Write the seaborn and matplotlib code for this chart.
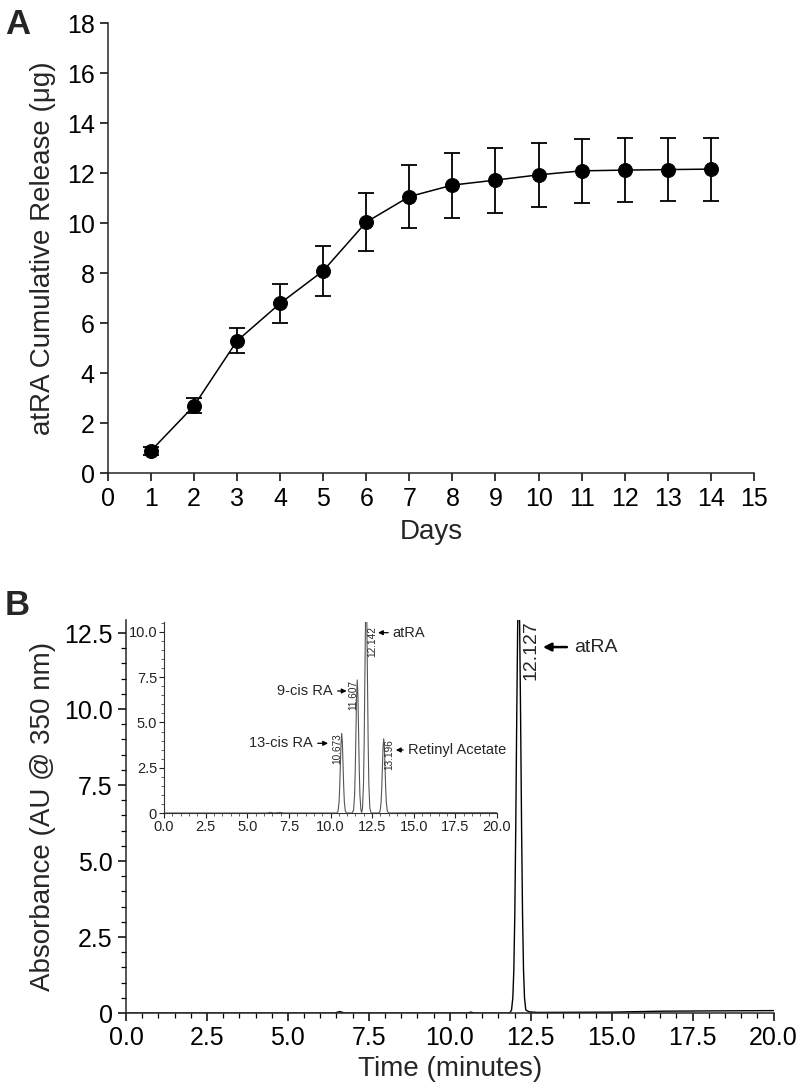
import matplotlib
matplotlib.use("Agg")
import matplotlib.pyplot as plt
from matplotlib.ticker import MultipleLocator, FuncFormatter
import seaborn as sns
import pandas as pd

# ---------------- Data ----------------
days = [1, 2, 3, 4, 5, 6, 7, 8, 9, 10, 11, 12, 13, 14]
release = [0.9, 2.7, 5.3, 6.8, 8.1, 10.05, 11.07, 11.53, 11.73, 11.94, 12.1, 12.13, 12.15, 12.17]
release_sd = [0.15, 0.3, 0.5, 0.78, 1.0, 1.15, 1.25, 1.3, 1.3, 1.29, 1.27, 1.27, 1.27, 1.26]

main_time = [0.0, 5.0, 6.45, 6.6, 6.75, 10.55, 10.65, 10.75, 11.85,
             11.907, 11.947, 11.977, 12.007, 12.037, 12.067, 12.097, 12.127,
             12.157, 12.187, 12.217, 12.247, 12.277, 12.307, 12.347,
             12.45, 12.7, 15.0, 16.5, 18.0, 20.0]
main_au = [0.0, 0.0, 0.0, 0.05, 0.0, 0.0, 0.03, 0.0, 0.0,
           0.10, 0.51, 1.4, 3.2, 6.1, 9.7, 12.8, 14.0,
           12.8, 9.7, 6.1, 3.2, 1.4, 0.51, 0.10,
           0.04, 0.02, 0.03, 0.06, 0.07, 0.08]

inset_time = [0.0, 6.2, 6.4, 6.6, 7.0, 7.2, 10.2,
              10.373, 10.453, 10.513, 10.553, 10.593, 10.633, 10.673, 10.713, 10.753, 10.793, 10.833, 10.893, 10.973,
              11.307, 11.387, 11.447, 11.487, 11.527, 11.567, 11.607, 11.647, 11.687, 11.727, 11.767, 11.827, 11.875,
              11.922, 11.982, 12.022, 12.062, 12.102, 12.142, 12.182, 12.222, 12.262, 12.302, 12.362, 12.442,
              12.896, 12.976, 13.036, 13.076, 13.116, 13.156, 13.196, 13.236, 13.276, 13.316, 13.356, 13.416, 13.496,
              16.0, 20.0]
inset_au = [0.0, 0.0, 0.04, 0.0, 0.03, 0.0, 0.0,
            0.0, 0.10, 0.59, 1.43, 2.67, 3.88, 4.4, 3.88, 2.67, 1.43, 0.59, 0.10, 0.0,
            0.0, 0.17, 0.99, 2.39, 4.46, 6.48, 7.35, 6.48, 4.46, 2.39, 0.99, 0.17, 0.03,
            0.27, 1.62, 3.9, 7.28, 10.6, 12.0, 10.6, 7.28, 3.9, 1.62, 0.27, 0.0,
            0.0, 0.09, 0.55, 1.33, 2.49, 3.62, 4.1, 3.62, 2.49, 1.33, 0.55, 0.09, 0.0,
            0.02, 0.02]

peak_rt = [10.673, 11.607, 12.142, 13.196]
peak_height = [4.4, 7.35, 10.3, 4.09]
peak_names = ["13-cis RA", "9-cis RA", "atRA", "Retinyl Acetate"]
main_peak_rt = 12.127
main_peak_name = "atRA"

# ---------------- Style ----------------
sns.set_theme(style="ticks")
plt.rcParams["font.family"] = ["Liberation Sans", "DejaVu Sans"]
plt.rcParams["axes.linewidth"] = 1.1
plt.rcParams["xtick.major.width"] = 1.1
plt.rcParams["ytick.major.width"] = 1.1

fig = plt.figure(figsize=(7.99, 10.83), dpi=100)

# ---------------- Panel A ----------------
axA = fig.add_axes([0.1348, 0.5628, 0.8089, 0.4157])
dfA = pd.DataFrame({"Days": days, "Release": release})
sns.lineplot(data=dfA, x="Days", y="Release", ax=axA, color="black", linewidth=1.1,
             marker="o", markersize=10, markeredgecolor="black", sort=False)
axA.errorbar(days, release, yerr=release_sd, fmt="none", ecolor="black",
             elinewidth=1.3, capsize=6, capthick=1.3)
axA.set_xlim(0, 15)
axA.set_ylim(0, 18)
axA.xaxis.set_major_locator(MultipleLocator(1))
axA.yaxis.set_major_locator(MultipleLocator(2))
axA.tick_params(axis="both", labelsize=18, length=6, direction="out", colors="black")
axA.set_xlabel("Days", fontsize=20, labelpad=6)
axA.set_ylabel("atRA Cumulative Release (\u03bcg)", fontsize=20, labelpad=8)
sns.despine(ax=axA)
fig.text(0.006, 0.993, "A", fontsize=25, fontweight="bold", va="top", ha="left")

# ---------------- Panel B main ----------------
axB = fig.add_axes([0.1577, 0.0646, 0.8105, 0.3629])
dfB = pd.DataFrame({"Time": main_time, "AU": main_au})
sns.lineplot(data=dfB, x="Time", y="AU", ax=axB, color="black", linewidth=1.0, sort=False)
axB.set_xlim(0, 20)
axB.set_ylim(0, 12.93)
axB.xaxis.set_major_locator(MultipleLocator(2.5))
axB.xaxis.set_minor_locator(MultipleLocator(0.5))
axB.yaxis.set_major_locator(MultipleLocator(2.5))
axB.yaxis.set_minor_locator(MultipleLocator(0.5))
fmt = FuncFormatter(lambda v, p: "0" if abs(v) < 1e-9 else f"{v:.1f}")
axB.xaxis.set_major_formatter(FuncFormatter(lambda v, p: f"{v:.1f}"))
axB.yaxis.set_major_formatter(fmt)
axB.tick_params(axis="both", which="major", labelsize=18, length=6, direction="out", colors="black")
axB.tick_params(axis="both", which="minor", length=3.5, width=0.9, direction="out", colors="black")
axB.set_xlabel("Time (minutes)", fontsize=20, labelpad=4)
axB.set_ylabel("Absorbance (AU @ 350 nm)", fontsize=20, labelpad=6)
sns.despine(ax=axB)
axB.text(main_peak_rt + 0.38, 12.92, f"{main_peak_rt:.3f}", rotation=90, ha="center", va="top", fontsize=14)
axB.annotate(main_peak_name, xy=(main_peak_rt + 0.75, 12.04), xytext=(main_peak_rt + 1.72, 12.04),
             ha="left", va="center", fontsize=14,
             arrowprops=dict(arrowstyle="-|>", color="black", lw=1.8, mutation_scale=12,
                             shrinkA=3, shrinkB=0))
fig.text(0.006, 0.456, "B", fontsize=25, fontweight="bold", va="top", ha="left")

# ---------------- Inset ----------------
axI = fig.add_axes([0.2053, 0.2493, 0.4167, 0.1767])
axI.set_facecolor("white")
dfI = pd.DataFrame({"Time": inset_time, "AU": inset_au})
sns.lineplot(data=dfI, x="Time", y="AU", ax=axI, color="#555555", linewidth=0.8, sort=False)
axI.set_xlim(0, 20)
axI.set_ylim(0, 10.57)
axI.xaxis.set_major_locator(MultipleLocator(2.5))
axI.xaxis.set_minor_locator(MultipleLocator(0.5))
axI.yaxis.set_major_locator(MultipleLocator(2.5))
axI.yaxis.set_minor_locator(MultipleLocator(0.5))
axI.xaxis.set_major_formatter(FuncFormatter(lambda v, p: f"{v:.1f}"))
axI.yaxis.set_major_formatter(fmt)
axI.tick_params(axis="both", which="major", labelsize=10.5, length=3.5, width=0.8, pad=1.5,
                direction="out", colors="#222222")
axI.tick_params(axis="both", which="minor", length=2, width=0.6, direction="out", colors="#444444")
for s in ["left", "bottom"]:
    axI.spines[s].set_linewidth(0.8)
    axI.spines[s].set_color("#333333")
axI.set_xlabel("")
axI.set_ylabel("")
sns.despine(ax=axI)

label_offsets = [-0.26, -0.26, 0.37, 0.36]
for rt, h, off in zip(peak_rt, peak_height, label_offsets):
    axI.text(rt + off, h, f"{rt:.3f}", rotation=90, ha="center", va="top", fontsize=7.2)

# annotation arrows (head offset, text offset, y, side)
ann = [(-0.82, -1.72, 3.85, "right"),
       (-0.64, -1.46, 6.74, "right"),
       (0.71, 1.60, 9.96, "left"),
       (0.73, 1.45, 3.48, "left")]
for name, rt, (hoff, toff, y, side) in zip(peak_names, peak_rt, ann):
    axI.annotate(name, xy=(rt + hoff, y), xytext=(rt + toff, y), ha=side, va="center",
                 fontsize=10.5,
                 arrowprops=dict(arrowstyle="-|>", color="black", lw=0.9, mutation_scale=7,
                                 shrinkA=1, shrinkB=0))

fig.savefig("out.png", dpi=100)
